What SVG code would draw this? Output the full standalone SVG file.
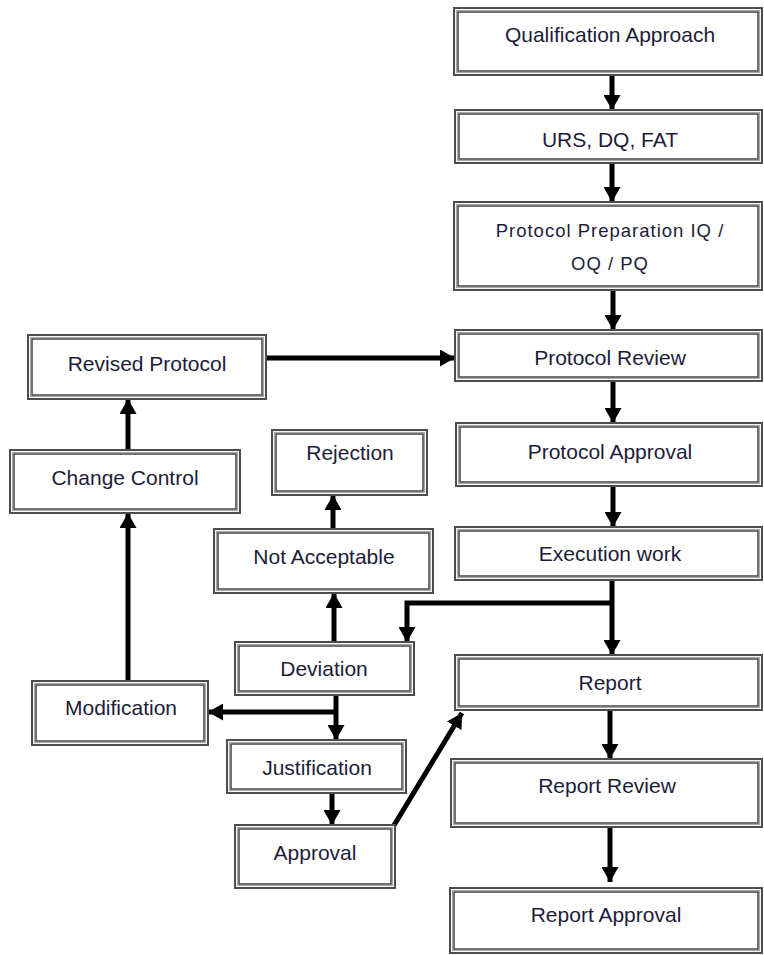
<svg xmlns="http://www.w3.org/2000/svg" width="764" height="955" viewBox="0 0 764 955">
<style>
.b1{fill:#fff;stroke:#4d4d4d;stroke-width:2}
.b2{fill:none;stroke:#a8a8a8;stroke-width:1.2}
.b3{fill:none;stroke:#444;stroke-width:1.5}
.t{font-family:"Liberation Sans",Arial,sans-serif;font-size:21px;fill:#1c1c3a;text-anchor:middle}
.t2{font-family:"Liberation Sans",Arial,sans-serif;font-size:18.5px;letter-spacing:1px;fill:#1c1c3a;text-anchor:middle}
.c{fill:none;stroke:#000;stroke-width:5;marker-end:url(#ah)}
</style>
<defs>
<marker id="ah" viewBox="0 0 15 17" refX="15" refY="8.5" markerWidth="15" markerHeight="17" markerUnits="userSpaceOnUse" orient="auto">
<path d="M0,0 L15,8.5 L0,17 z" fill="#000"/>
</marker>
</defs>
<rect width="764" height="955" fill="#fff"/>
<g id="connectors">
<path class="c" d="M612,75 V110"/>
<path class="c" d="M612,163 V202"/>
<path class="c" d="M613,290 V330"/>
<path class="c" d="M613,381 V423"/>
<path class="c" d="M613,486 V527"/>
<path class="c" d="M612,580 V655"/>
<path class="c" d="M612,603 H407 V642"/>
<path class="c" d="M610,710 V759"/>
<path class="c" d="M610,827 V882"/>
<path class="c" d="M266,358 H455"/>
<path class="c" d="M128,450 V399"/>
<path class="c" d="M128,681 V513"/>
<path class="c" d="M333,529 V495"/>
<path class="c" d="M334,642 V593"/>
<path class="c" d="M336,695 V740"/>
<path class="c" d="M336,712 H208"/>
<path class="c" d="M332,793 V825"/>
<path class="c" d="M393,827 L462,713"/>
</g>
<g id="qualification-approach">
<rect class="b1" x="454" y="8" width="308" height="67"/><rect class="b2" x="456.5" y="10.5" width="303" height="62"/><rect class="b3" x="458" y="12" width="300" height="59"/>
<text class="t" x="610" y="42">Qualification Approach</text>
</g>
<g id="urs-dq-fat">
<rect class="b1" x="455" y="110" width="307" height="53"/><rect class="b2" x="457.5" y="112.5" width="302" height="48"/><rect class="b3" x="459" y="114" width="299" height="45"/>
<text class="t" x="610" y="147">URS, DQ, FAT</text>
</g>
<g id="protocol-preparation">
<rect class="b1" x="454" y="202" width="308" height="88"/><rect class="b2" x="456.5" y="204.5" width="303" height="83"/><rect class="b3" x="458" y="206" width="300" height="80"/>
<text class="t2" x="610" y="237">Protocol Preparation IQ /</text>
<text class="t2" x="610" y="270">OQ / PQ</text>
</g>
<g id="protocol-review">
<rect class="b1" x="455" y="330" width="307" height="51"/><rect class="b2" x="457.5" y="332.5" width="302" height="46"/><rect class="b3" x="459" y="334" width="299" height="43"/>
<text class="t" x="610" y="365">Protocol Review</text>
</g>
<g id="protocol-approval">
<rect class="b1" x="456" y="423" width="306" height="63"/><rect class="b2" x="458.5" y="425.5" width="301" height="58"/><rect class="b3" x="460" y="427" width="298" height="55"/>
<text class="t" x="610" y="459">Protocol Approval</text>
</g>
<g id="execution-work">
<rect class="b1" x="455" y="527" width="307" height="53"/><rect class="b2" x="457.5" y="529.5" width="302" height="48"/><rect class="b3" x="459" y="531" width="299" height="45"/>
<text class="t" x="610" y="561">Execution work</text>
</g>
<g id="report">
<rect class="b1" x="455" y="655" width="307" height="55"/><rect class="b2" x="457.5" y="657.5" width="302" height="50"/><rect class="b3" x="459" y="659" width="299" height="47"/>
<text class="t" x="610" y="690">Report</text>
</g>
<g id="report-review">
<rect class="b1" x="451" y="759" width="311" height="68"/><rect class="b2" x="453.5" y="761.5" width="306" height="63"/><rect class="b3" x="455" y="763" width="303" height="60"/>
<text class="t" x="607" y="793">Report Review</text>
</g>
<g id="report-approval">
<rect class="b1" x="450" y="888" width="312" height="65"/><rect class="b2" x="452.5" y="890.5" width="307" height="60"/><rect class="b3" x="454" y="892" width="304" height="57"/>
<text class="t" x="606" y="922">Report Approval</text>
</g>
<g id="revised-protocol">
<rect class="b1" x="28" y="335" width="238" height="64"/><rect class="b2" x="30.5" y="337.5" width="233" height="59"/><rect class="b3" x="32" y="339" width="230" height="56"/>
<text class="t" x="147" y="371">Revised Protocol</text>
</g>
<g id="change-control">
<rect class="b1" x="10" y="450" width="230" height="63"/><rect class="b2" x="12.5" y="452.5" width="225" height="58"/><rect class="b3" x="14" y="454" width="222" height="55"/>
<text class="t" x="125" y="485">Change Control</text>
</g>
<g id="rejection">
<rect class="b1" x="272" y="430" width="155" height="65"/><rect class="b2" x="274.5" y="432.5" width="150" height="60"/><rect class="b3" x="276" y="434" width="147" height="57"/>
<text class="t" x="350" y="460">Rejection</text>
</g>
<g id="not-acceptable">
<rect class="b1" x="214" y="529" width="219" height="64"/><rect class="b2" x="216.5" y="531.5" width="214" height="59"/><rect class="b3" x="218" y="533" width="211" height="56"/>
<text class="t" x="324" y="564">Not Acceptable</text>
</g>
<g id="deviation">
<rect class="b1" x="235" y="642" width="179" height="53"/><rect class="b2" x="237.5" y="644.5" width="174" height="48"/><rect class="b3" x="239" y="646" width="171" height="45"/>
<text class="t" x="324" y="676">Deviation</text>
</g>
<g id="modification">
<rect class="b1" x="32" y="681" width="176" height="64"/><rect class="b2" x="34.5" y="683.5" width="171" height="59"/><rect class="b3" x="36" y="685" width="168" height="56"/>
<text class="t" x="121" y="715">Modification</text>
</g>
<g id="justification">
<rect class="b1" x="227" y="740" width="179" height="53"/><rect class="b2" x="229.5" y="742.5" width="174" height="48"/><rect class="b3" x="231" y="744" width="171" height="45"/>
<text class="t" x="317" y="775">Justification</text>
</g>
<g id="approval">
<rect class="b1" x="235" y="825" width="160" height="63"/><rect class="b2" x="237.5" y="827.5" width="155" height="58"/><rect class="b3" x="239" y="829" width="152" height="55"/>
<text class="t" x="315" y="860">Approval</text>
</g>
</svg>
